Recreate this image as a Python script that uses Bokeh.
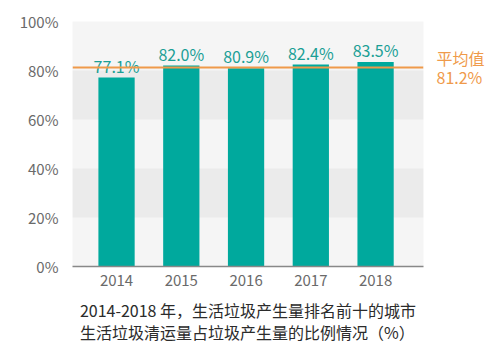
from bokeh.plotting import figure
from bokeh.models import (FixedTicker, PrintfTickFormatter, Span, ColumnDataSource, Range1d,
                          LinearAxis, Title)
from bokeh.core.properties import value
from bokeh.embed import file_html
from bokeh.resources import INLINE

years = [2014, 2015, 2016, 2017, 2018]
values = [77.1, 82.0, 80.9, 82.4, 83.5]
labels = ["77.1%", "82.0%", "80.9%", "82.4%", "83.5%"]
average = 81.2
avg_text = "平均值\n81.2%"
y_ticks = [0, 20, 40, 60, 80, 100]
title1 = "2014-2018 年，生活垃圾产生量排名前十的城市"
title2 = "生活垃圾清运量占垃圾产生量的比例情况（%）"

TEAL = "#00a99d"
TEAL_TXT = "#1b9f95"
ORANGE = "#ef9a4a"
GRAY = "#6a6a6a"
FONT = "Noto Sans CJK SC"

src = ColumnDataSource(dict(x=years, top=values, lab=labels))

p = figure(width=487, height=351, output_backend="svg", toolbar_location=None,
           x_range=Range1d(2014 - 0.68, 2018 + 0.74), y_range=Range1d(0, 100),
           min_border_left=72, min_border_right=57, min_border_top=21, min_border_bottom=84)
p.outline_line_color = None
p.background_fill_color = "#f5f5f5"
p.border_fill_color = "white"

p.ygrid.ticker = FixedTicker(ticks=y_ticks)
p.ygrid.grid_line_color = None
p.ygrid.band_fill_color = "#ebebeb"
p.ygrid.band_fill_alpha = 1.0
p.xgrid.grid_line_color = None

p.vbar(x="x", top="top", width=0.56, source=src, color=TEAL, line_color=None)

p.text(x="x", y="top", text="lab", source=src, text_align="center", text_baseline="middle",
       y_offset=-12, text_color=TEAL_TXT, text_font_size="16px", text_font=value(FONT))

span = Span(location=average, dimension="width", line_color=ORANGE, line_width=2)
p.add_layout(span)

# right axis carrying the average label
ax_r = LinearAxis(ticker=FixedTicker(ticks=[average]))
ax_r.major_label_overrides = {average: avg_text}
ax_r.axis_line_color = None
ax_r.major_tick_line_color = None
ax_r.minor_tick_line_color = None
ax_r.major_label_text_color = ORANGE
ax_r.major_label_text_font_size = "16px"
ax_r.major_label_text_font = FONT
ax_r.major_label_text_line_height = 0.82
ax_r.major_label_standoff = 7
p.add_layout(ax_r, "right")

p.yaxis[0].ticker = FixedTicker(ticks=y_ticks)
p.yaxis[0].formatter = PrintfTickFormatter(format="%d%%")
p.yaxis[0].axis_line_color = None
p.yaxis[0].major_tick_line_color = None
p.yaxis[0].minor_tick_line_color = None
p.yaxis[0].major_label_text_color = GRAY
p.yaxis[0].major_label_text_font_size = "15px"
p.yaxis[0].major_label_text_font = FONT
p.yaxis[0].major_label_standoff = 8

p.xaxis.ticker = FixedTicker(ticks=years)
p.xaxis.axis_line_color = "#888888"
p.xaxis.axis_line_width = 1.5
p.xaxis.major_tick_line_color = None
p.xaxis.minor_tick_line_color = None
p.xaxis.major_label_text_color = GRAY
p.xaxis.major_label_text_font_size = "15px"
p.xaxis.major_label_text_font = FONT
p.xaxis.major_label_standoff = 2

t = Title(text=title1 + "\n" + title2, align="center", text_font_size="16px", text_font=FONT,
          text_color="#2b2b2b", text_font_style="normal", text_line_height=0.95, standoff=14)
p.add_layout(t, "below")

open("out.html", "w").write(file_html(p, INLINE))
